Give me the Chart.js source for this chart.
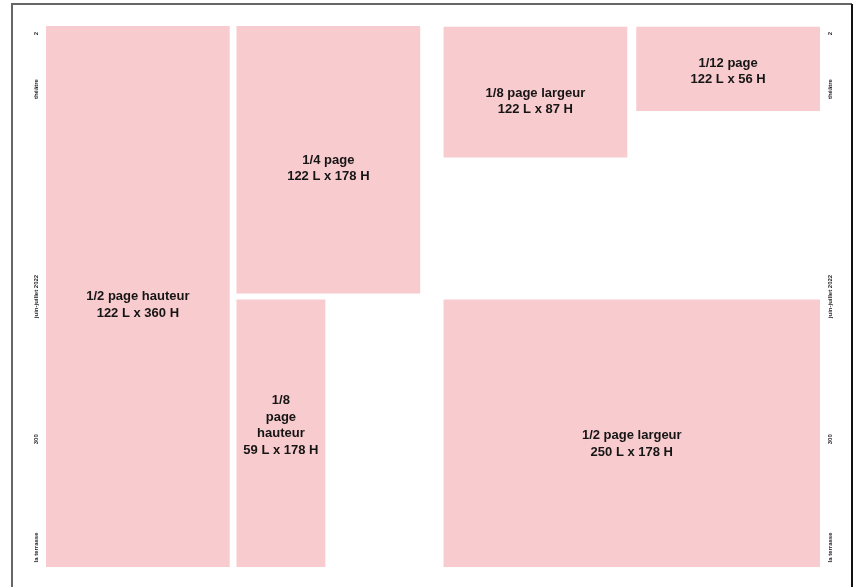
<!DOCTYPE html>
<html>
<head>
<meta charset="utf-8">
<script src="https://cdn.jsdelivr.net/npm/chart.js@4"></script>
<style>
  html, body { margin: 0; padding: 0; background: #fff; }
  #wrap { width: 859px; height: 587px; }
</style>
</head>
<body>
<div id="wrap"><canvas id="layoutChart"></canvas></div>
<script>
// ad formats (mm) - largeur x hauteur, and where they sit on the page
const formats = ['1/2 page hauteur', '1/4 page', '1/8 page hauteur', '1/8 page largeur', '1/12 page', '1/2 page largeur'];
const widths  = [122, 122, 59, 122, 122, 250];
const heights = [360, 178, 178, 87, 56, 178];
const xStart  = [0, 126.5, 126.5, 264, 392, 264];
const yStart  = [0, 0, 182, 0.5, 0.5, 182];

// running folio texts on both margins
const sideTexts = ['2', 'théâtre', 'juin-juillet 2022', '300', 'la terrasse'];
const sidePos   = [5, 42, 180, 275, 347];

const pink = '#f8cbce';

// each format becomes a closed polygon filled with 'shape'
const datasets = formats.map((f, i) => ({
    label: f,
    data: [
        { x: xStart[i], y: yStart[i] },
        { x: xStart[i] + widths[i], y: yStart[i] },
        { x: xStart[i] + widths[i], y: yStart[i] + heights[i] },
        { x: xStart[i], y: yStart[i] + heights[i] },
        { x: xStart[i], y: yStart[i] }
    ],
    showLine: true,
    fill: 'shape',
    backgroundColor: pink,
    borderColor: pink,
    borderWidth: 0,
    pointRadius: 0,
    tension: 0
}));

const labelsPlugin = {
    id: 'formatLabels',
    afterDatasetsDraw(chart, args, opts) {
        const ctx = chart.ctx;
        const xs = chart.scales.x, ys = chart.scales.y;
        ctx.save();
        ctx.fillStyle = '#151515';
        ctx.font = 'bold 13px "Liberation Sans", Arial, sans-serif';
        ctx.textAlign = 'center';
        ctx.textBaseline = 'middle';
        formats.forEach((f, i) => {
            const cx = xs.getPixelForValue(xStart[i] + widths[i] / 2);
            const cy = ys.getPixelForValue(yStart[i] + heights[i] / 2);
            let lines = widths[i] < 80 ? f.split(' ') : [f];
            lines.push(widths[i] + ' L x ' + heights[i] + ' H');
            const lh = 16.5;
            const top = cy + opts.dy[i] - (lines.length - 1) * lh / 2;
            lines.forEach((l, k) => ctx.fillText(l, cx, top + k * lh));
        });
        ctx.restore();
    }
};

const framePlugin = {
    id: 'pageFrame',
    beforeDraw(chart) {
        const ctx = chart.ctx;
        const ys = chart.scales.y;
        ctx.save();
        ctx.lineWidth = 2;
        ctx.strokeStyle = '#666';
        ctx.beginPath();
        ctx.moveTo(12, 587); ctx.lineTo(12, 4); ctx.lineTo(852, 4);
        ctx.stroke();
        ctx.strokeStyle = '#111';
        ctx.beginPath();
        ctx.moveTo(852, 4); ctx.lineTo(852, 587);
        ctx.stroke();

        ctx.fillStyle = '#222';
        ctx.font = 'bold 6px "Liberation Sans", Arial, sans-serif';
        ctx.textAlign = 'center';
        ctx.textBaseline = 'middle';
        sideTexts.forEach((t, i) => {
            const y = ys.getPixelForValue(sidePos[i]);
            [36, 830].forEach(x => {
                ctx.save();
                ctx.translate(x, y);
                ctx.rotate(-Math.PI / 2);
                ctx.fillText(t, 0, 0);
                ctx.restore();
            });
        });
        ctx.restore();
    }
};

new Chart(document.getElementById('layoutChart'), {
    type: 'scatter',
    data: { datasets: datasets },
    options: {
        responsive: true,
        maintainAspectRatio: false,
        animation: false,
        layout: { padding: { left: 46, right: 39, top: 26, bottom: 20 } },
        scales: {
            x: { type: 'linear', min: 0, max: 514, display: false },
            y: { type: 'linear', min: 0, max: 360, reverse: true, display: false }
        },
        plugins: {
            legend: { display: false },
            tooltip: { enabled: false },
            formatLabels: { dy: [8.5, 8.5, -8, 9.5, 2.5, 10.5] }
        }
    },
    plugins: [framePlugin, labelsPlugin]
});
</script>
</body>
</html>
